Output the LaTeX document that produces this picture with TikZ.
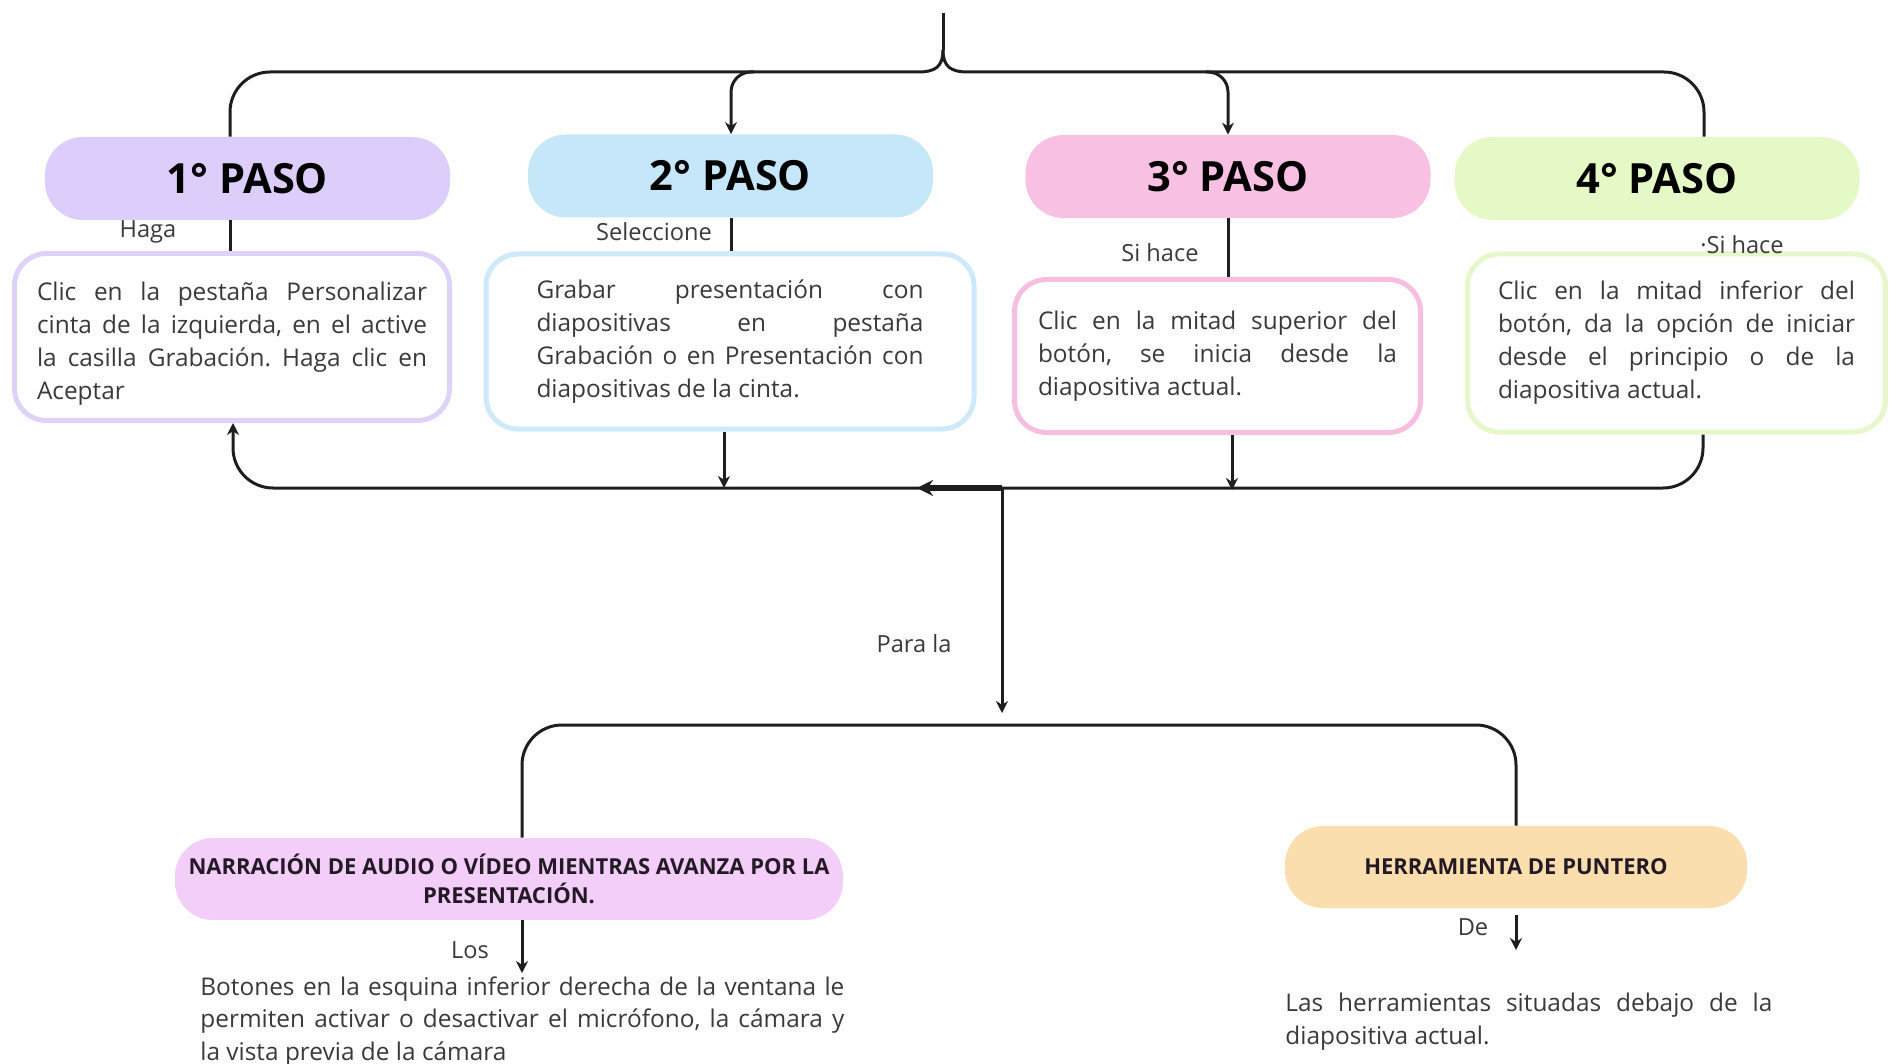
\documentclass[tikz,border=0pt]{standalone}
\usepackage{fontspec}
\usepackage{tikz}
\setmainfont{Open Sans}
\usetikzlibrary{arrows.meta}
\frenchspacing
\definecolor{lila}{HTML}{DCCDFB}
\definecolor{lilaborde}{HTML}{DED2F9}
\definecolor{celeste}{HTML}{C6E7FA}
\definecolor{celesteborde}{HTML}{CDE9FA}
\definecolor{rosa}{HTML}{F8C1E3}
\definecolor{rosaborde}{HTML}{F6BEE0}
\definecolor{lima}{HTML}{E5F9C7}
\definecolor{limaborde}{HTML}{E6F8CB}
\definecolor{orquidea}{HTML}{F2CEF8}
\definecolor{durazno}{HTML}{FBDEAD}
\definecolor{texto}{HTML}{3A3A3A}
\definecolor{trazo}{HTML}{1E1E1E}
\definecolor{titulo}{HTML}{231A26}

\begin{document}
\begin{tikzpicture}[x=0.5pt,y=-0.5pt,
		paso/.style={rounded corners=19pt,minimum width=202.5pt,minimum height=41.5pt,font=\bfseries\fontsize{20.8}{24}\selectfont,text=black},
		caja/.style={draw,line width=2.5pt,rounded corners=16pt,fill=white,align=justify,font=\fontsize{12.2}{16.5}\selectfont,text=texto},
		fin/.style={rounded corners=19pt,minimum height=41pt,align=center,font=\bfseries\fontsize{11}{14.5}\selectfont,text=titulo},
		rot/.style={font=\fontsize{11.8}{14}\selectfont,text=texto},
		nota/.style={inner sep=0pt,align=justify,font=\fontsize{12.2}{16.4}\selectfont,text=texto},
		linea/.style={line width=1.5pt,draw=trazo},
		flecha/.style={linea,-{Stealth[length=6pt,width=6pt]}}]
			\useasboundingbox (0,0) rectangle (1896,1064);
			
			\node[paso,fill=lila] (p1) at (247.5,178.5) {1° PASO};
			\node[paso,fill=celeste] (p2) at (730.5,176) {2° PASO};
			\node[paso,fill=rosa] (p3) at (1228,176.5) {3° PASO};
			\node[paso,fill=lima] (p4) at (1657,178.5) {4° PASO};
			
			\node[caja,draw=lilaborde,text width=195pt,minimum width=217.5pt,minimum height=83.5pt] (t1) at (232,337) {\rule{0pt}{16pt}Clic en la pestaña Personalizar\linebreak cinta de la izquierda, en el active\linebreak la casilla Grabación. Haga clic en\linebreak Aceptar};
			\node[caja,draw=celesteborde,text width=193.5pt,minimum width=244pt,minimum height=87.5pt] (t2) at (730,341.5) {Grabar presentación con\linebreak diapositivas en pestaña\linebreak Grabación o en Presentación con\linebreak diapositivas de la cinta.};
			\node[caja,draw=rosaborde,text width=179.5pt,minimum width=203pt,minimum height=76.5pt] (t3) at (1217.5,356) {Clic en la mitad superior del\linebreak botón, se inicia desde la\linebreak diapositiva actual.};
			\node[caja,draw=limaborde,text width=178.5pt,minimum width=209pt,minimum height=89pt] (t4) at (1676.5,343) {Clic en la mitad inferior del\linebreak botón, da la opción de iniciar\linebreak desde el principio o de la\linebreak diapositiva actual.};
			
			\node[rot] (lhaga) at (148,232) {Haga};
			\node[rot] (lsel) at (654,232) {Seleccione};
			\node[rot] (lsi) at (1160,253) {Si hace};
			\node[rot] (lsi4) at (1742,245) {·Si hace};
			\node[rot] (lpara) at (914,644) {Para la};
			\node[rot] (llos) at (470,950) {Los};
			\node[rot] (lde) at (1473,927) {De};
			
			\node[fin,fill=orquidea,minimum width=334pt] (n1) at (509,879) {NARRACIÓN DE AUDIO O VÍDEO MIENTRAS AVANZA POR LA\\PRESENTACIÓN.};
			\node[fin,fill=durazno,minimum width=231pt] (n2) at (1516,867) {HERRAMIENTA DE PUNTERO};
			
			\node[nota,text width=322pt,anchor=north west] (botones) at (200,976) {Botones en la esquina inferior derecha de la ventana le\linebreak permiten activar o desactivar el micrófono, la cámara y\linebreak la vista previa de la cámara};
			\node[nota,text width=243.5pt,anchor=north west] (herr) at (1285,993) {Las herramientas situadas debajo de la\linebreak diapositiva actual.};
			
			\coordinate (brace) at (943,13);
			\coordinate (fork) at (943,50);
			\coordinate (k1) at (230,72);
			\coordinate (k4) at (1704,72);
			\coordinate (b2) at (754,72);
			\coordinate (c2) at (731,72);
			\coordinate (b3) at (1206,72);
			\coordinate (c3) at (1228,72);
			\draw[linea] (brace) -- (fork);
			\draw[linea] (fork) .. controls (943,67) and (935,72) .. (918,72) [rounded corners=20pt] -- (k1) -- (k1 |- p1.north);
			\draw[linea] (fork) .. controls (943,67) and (951,72) .. (968,72) [rounded corners=20pt] -- (k4) -- (k4 |- p4.north);
			\draw[flecha,rounded corners=10pt] (b2) -| (c2 |- p2.north);
			\draw[flecha,rounded corners=10pt] (b3) -| (c3 |- p3.north);
			
			\draw[linea] (p1.south -| k1) -- (t1.north -| k1);
			\draw[linea] (p2.south -| c2) -- (t2.north -| c2);
			\draw[linea] (p3.south -| c3) -- (t3.north -| c3);
			
			\coordinate (m) at (1002,488);
			\coordinate (q) at (917,488);
			\coordinate (k1b) at (233,488);
			\coordinate (k4b) at (1703,488);
			\coordinate (d2) at (724,488);
			\coordinate (d3) at (1232,490);
			\coordinate (r) at (1002,713);
			\draw[flecha,rounded corners=20pt] (m) -- (k1b) -- (k1b |- t1.south);
			\draw[linea,rounded corners=20pt] (m) -- (k4b) -- (k4b |- t4.south);
			\draw[flecha] (t2.south -| d2) -- (d2);
			\draw[flecha] (t3.south -| d3) -- (d3);
			\draw[linea,line width=2.6pt,-{Stealth[length=8pt,width=8pt]}] (m) -- (q);
			\draw[flecha] (m) -- (r);
			
			\coordinate (s1) at (522,725);
			\coordinate (s2) at (1516,725);
			\coordinate (e1) at (522,973);
			\coordinate (f2) at (1516,915);
			\coordinate (e2) at (1516,950);
			\draw[linea,rounded corners=20pt] (s1 |- n1.north) -- (s1) -- (s2) -- (s2 |- n2.north);
			\draw[flecha] (n1.south -| s1) -- (e1);
			\draw[flecha] (f2) -- (e2);
\end{tikzpicture}
\end{document}
